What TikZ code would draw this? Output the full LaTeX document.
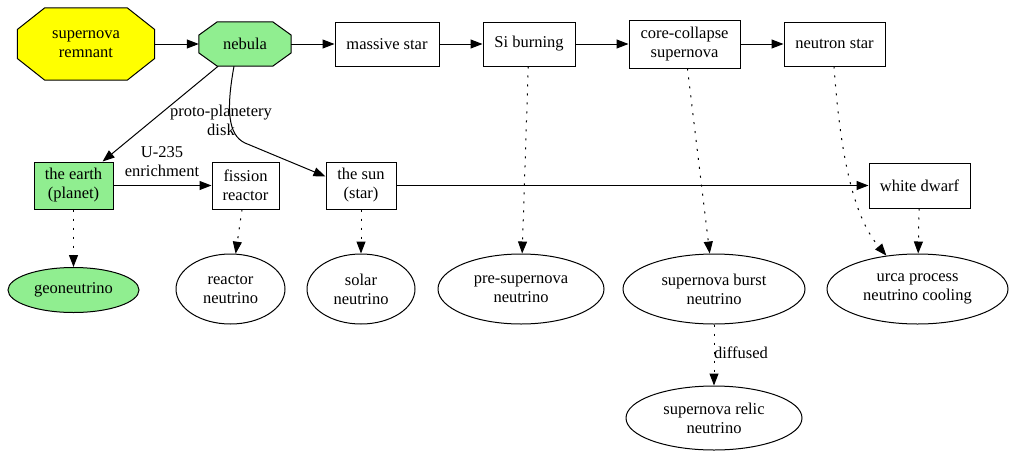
\documentclass[tikz,border=0pt]{standalone}
\usepackage{fontspec}
\setmainfont{Liberation Serif}
\usetikzlibrary{arrows.meta,calc,backgrounds,shapes.geometric}
\definecolor{lgreen}{HTML}{90EE90}
\definecolor{gvyellow}{HTML}{FFFF00}
\begin{document}
\begin{tikzpicture}[x=1pt,y=-1pt,
  every node/.style={font=\fontsize{16.5}{19}\selectfont, align=center, inner sep=0pt},
  boxnode/.style={draw, line width=1pt, rectangle},
  ellnode/.style={draw, line width=1pt, ellipse},
  octnode/.style={rectangle},
  edge/.style={line width=1pt, -{Triangle[length=12pt,width=9pt]}},
  dotedge/.style={edge, dash pattern=on 2pt off 7pt},
  lbl/.style={font=\fontsize{16.5}{19}\selectfont}
]
\useasboundingbox (0,0) rectangle (1009,450);
% top row
\node[octnode, minimum width=137pt, minimum height=72pt] (remnant) at (86,44) {supernova\\remnant};
\node[octnode, minimum width=92pt, minimum height=44pt] (nebula) at (245,44) {nebula};
\node[boxnode, minimum width=104pt, minimum height=44pt] (massive) at (387,44) {massive star};
\node[boxnode, minimum width=92pt, minimum height=44pt] (si) at (529,44) {Si burning};
\node[boxnode, minimum width=111pt, minimum height=48pt] (cc) at (684.5,44) {core-collapse\\supernova};
\node[boxnode, minimum width=101pt, minimum height=44pt] (ns) at (834.5,44) {neutron star};
% middle row
\node[boxnode, fill=lgreen, minimum width=79pt, minimum height=47pt] (earth) at (73.5,185.5) {the earth\\(planet)};
\node[boxnode, minimum width=67pt, minimum height=47pt] (fission) at (245.5,185.5) {fission\\reactor};
\node[boxnode, minimum width=70pt, minimum height=47pt] (sun) at (361,185.5) {the sun\\(star)};
\node[boxnode, minimum width=101pt, minimum height=45pt] (wd) at (919.5,185.5) {white dwarf};
% neutrinos
\node[ellnode, fill=lgreen, minimum width=131pt, minimum height=45pt] (geo) at (73.5,290) {geoneutrino};
\node[ellnode, minimum width=109pt, minimum height=70pt] (reactor) at (230.5,289) {reactor\\neutrino};
\node[ellnode, minimum width=108pt, minimum height=70pt] (solar) at (361,289) {solar\\neutrino};
\node[ellnode, minimum width=166pt, minimum height=70pt] (presn) at (521,289) {pre-supernova\\neutrino};
\node[ellnode, minimum width=182pt, minimum height=70pt] (burst) at (714,289) {supernova burst\\neutrino};
\node[ellnode, minimum width=181pt, minimum height=70pt] (urca) at (917.5,289) {urca process\\neutrino cooling};
\node[ellnode, minimum width=176pt, minimum height=64pt] (relic) at (714,418) {supernova relic\\neutrino};
% octagons
\begin{scope}[on background layer]
\foreach \n/\c in {remnant/gvyellow, nebula/lgreen}{
  \filldraw[fill=\c, line width=1pt]
    ($(\n.east)!0.4!(\n.north east)$) -- ($(\n.north)!0.6!(\n.north east)$) --
    ($(\n.north)!0.6!(\n.north west)$) -- ($(\n.west)!0.4!(\n.north west)$) --
    ($(\n.west)!0.4!(\n.south west)$) -- ($(\n.south)!0.6!(\n.south west)$) --
    ($(\n.south)!0.6!(\n.south east)$) -- ($(\n.east)!0.4!(\n.south east)$) -- cycle;
}
\end{scope}
% solid edges
\draw[edge] (remnant.east) -- (nebula.west);
\draw[edge] (nebula.east) -- (massive.west);
\draw[edge] (massive.east) -- (si.west);
\draw[edge] (si.east) -- (cc.west);
\draw[edge] (cc.east) -- (ns.west);
\draw[edge] (nebula) -- (earth);
\draw[edge] ([xshift=-11pt]nebula.south) .. controls (226,110) and (228,135) .. (245,143) -- ([yshift=9pt]sun.west);
\node[lbl] (ppd) at (221,120) {proto-planetery\\disk};
\draw[edge] (earth.east) -- (fission.west);
\node[lbl] (u235) at (162,162) {U-235\\enrichment};
\draw[edge] (sun.east) -- (wd.west);
% dotted edges
\draw[dotedge] (earth) -- (geo);
\draw[dotedge] (fission) -- (reactor);
\draw[dotedge] (sun) -- (solar);
\draw[dotedge] (si) -- (presn);
\draw[dotedge] (cc) -- (burst);
\draw[dotedge] ([xshift=-0.5pt]ns.south) .. controls (840,150) and (852,215) .. (urca.133);
\draw[dotedge] (wd) -- (urca);
\draw[dotedge] (burst) -- (relic);
\node[lbl] (diff) at (741,353) {diffused};
\end{tikzpicture}
\end{document}
